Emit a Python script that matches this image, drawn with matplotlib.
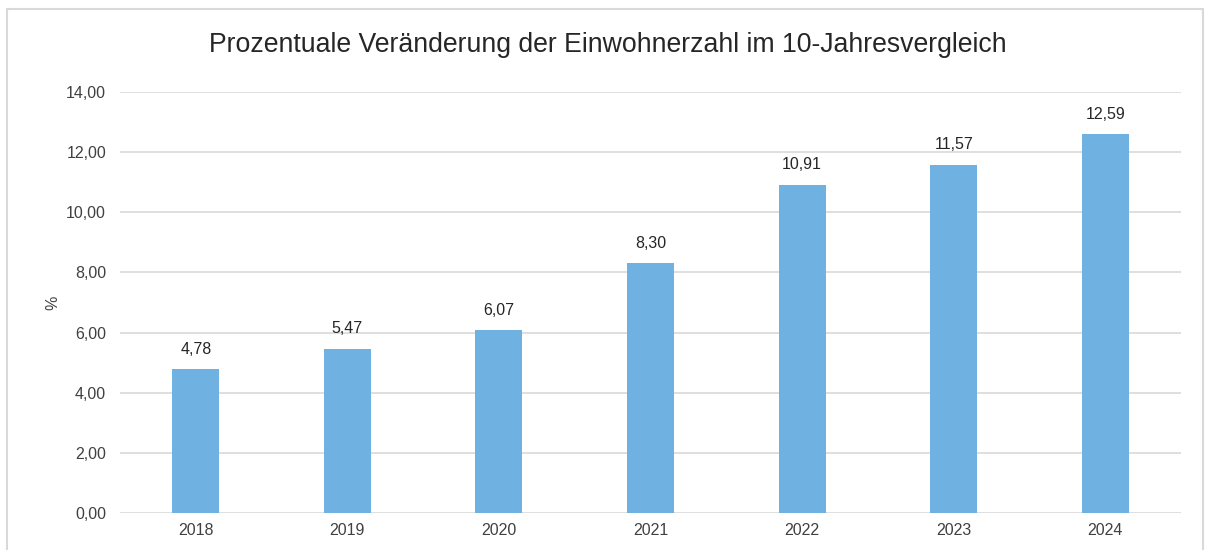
import matplotlib.pyplot as plt
from matplotlib.patches import Rectangle

years = ["2018", "2019", "2020", "2021", "2022", "2023", "2024"]
values = [4.78, 5.47, 6.07, 8.30, 10.91, 11.57, 12.59]
y_ticks = [0, 2, 4, 6, 8, 10, 12, 14]

plt.rcParams['font.family'] = ['Liberation Sans', 'DejaVu Sans']

def de(v):
    return f"{v:.2f}".replace(".", ",")

fig = plt.figure(figsize=(12.05, 5.5), dpi=100)
# outer chart border
fig.patches.append(Rectangle((7 / 1205, -0.1), 1196 / 1205, 1.1 - 9 / 550,
                             transform=fig.transFigure, fill=False,
                             edgecolor='#d9d9d9', linewidth=1.5))

ax = fig.add_axes([120 / 1205, 1 - 513 / 550, 1061 / 1205, 421 / 550])
x = list(range(len(years)))
bars = ax.bar(x, values, width=0.31, color='#6fb1e0', zorder=3)
for xi, v in zip(x, values):
    ax.text(xi, v + 0.42, de(v), ha='center', va='bottom', fontsize=11.5, color='#262626')

ax.set_xlim(-0.5, len(years) - 0.5)
ax.set_ylim(0, 14)
ax.set_yticks(y_ticks)
ax.set_yticklabels([de(t) for t in y_ticks])
ax.set_xticks(x)
ax.set_xticklabels(years)
ax.tick_params(length=0, labelsize=11.5, labelcolor='#404040')
ax.tick_params(axis='y', pad=10)
ax.tick_params(axis='x', pad=7)
ax.grid(axis='y', color='#d9d9d9', linewidth=1.2, zorder=0)
for s in ax.spines.values():
    s.set_visible(False)
ax.set_ylabel('%', fontsize=11.5, color='#404040', labelpad=4)

fig.text(0.504, 1 - 45 / 550, 'Prozentuale Veränderung der Einwohnerzahl im 10-Jahresvergleich',
         ha='center', va='center', fontsize=19.2, color='#262626')

fig.savefig('out.png', dpi=100)
